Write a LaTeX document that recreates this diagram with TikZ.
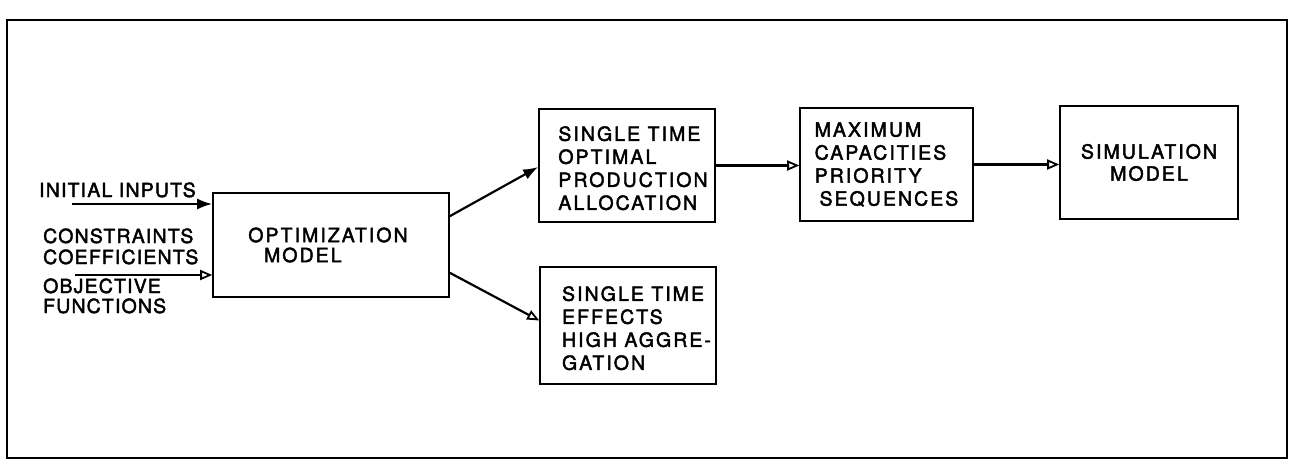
\documentclass[tikz,border=0pt]{standalone}
\usepackage{fontspec}
\setmainfont{TeX Gyre Heros}[LetterSpace=6,FakeBold=2.2]
\newfontfamily\boxfont{TeX Gyre Heros}[LetterSpace=10.5,FakeBold=2.2]
\newcommand{\padl}[1]{\hspace*{#1}}
\usetikzlibrary{arrows.meta,calc}
\begin{document}
\begin{tikzpicture}[x=1pt,y=-1pt,
  txt/.style={font=\fontsize{19.5}{23}\selectfont, align=left, inner sep=0pt},
  box/.style={draw, line width=1.6pt, inner sep=0pt, align=left, font=\boxfont\fontsize{19.5}{23}\selectfont},
  solidarrow/.style={line width=2.2pt, -{Latex[length=15pt,width=11pt]}},
  openarrow/.style={line width=2.2pt, -{Triangle[open,length=12pt,width=10pt,line width=1.8pt]}}]
\useasboundingbox (0,0) rectangle (1293,468);
\draw[line width=2.6pt] (7,20) rectangle (1287,458);
% boxes
\node[box, minimum width=236pt, minimum height=104pt] (opt) at (331,245) {\padl{-6pt}OPTIMIZATION\\[-3pt]\padl{0.5em}MODEL};
\node[box, minimum width=176pt, minimum height=113pt] (alloc) at (627,165.5) {\rule{0pt}{20pt}\padl{12pt}SINGLE TIME\\\padl{12pt}OPTIMAL\\\padl{12pt}PRODUCTION\\\padl{12pt}ALLOCATION};
\node[box, minimum width=176pt, minimum height=117pt] (effects) at (628,325.5) {\rule{0pt}{20pt}\padl{17pt}SINGLE TIME\\\padl{17pt}EFFECTS\\\padl{17pt}HIGH AGGRE-\\\padl{17pt}GATION};
\node[box, minimum width=173pt, minimum height=113pt] (cap) at (886.5,164.5) {MAXIMUM\\CAPACITIES\\PRIORITY\\\hspace*{0.25em}SEQUENCES};
\node[box, minimum width=178pt, minimum height=113pt, align=center] (sim) at (1149,162.5) {SIMULATION\\[-1pt]MODEL};
% input labels
\node[txt, anchor=base west] (initial) at (39,197) {INITIAL INPUTS};
\node[txt, anchor=base west] (constr) at (43,243) {CONSTRAINTS};
\node[txt, anchor=base west] (coeff) at (43,264) {COEFFICIENTS};
\node[txt, anchor=base west] (object) at (43,293) {OBJECTIVE};
\node[txt, anchor=base west] (funct) at (43,313) {FUNCTIONS};
\coordinate (in1) at (72,204);
\coordinate (in2) at (75,275);
\draw[solidarrow] (in1) -- (in1 -| opt.west);
\draw[openarrow] (in2) -- (in2 -| opt.west);
% connectors
\coordinate (o1) at ($(opt.north east)+(0,24)$);
\coordinate (o2) at ($(opt.south east)+(0,-25)$);
\draw[solidarrow] (o1) -- ($(alloc.west)+(0,1.5)$);
\draw[openarrow] (o2) -- ($(effects.west)+(0,-5)$);
\draw[openarrow] (alloc.east) -- (alloc.east -| cap.west);
\draw[openarrow] (cap.east) -- (cap.east -| sim.west);
\end{tikzpicture}
\end{document}
